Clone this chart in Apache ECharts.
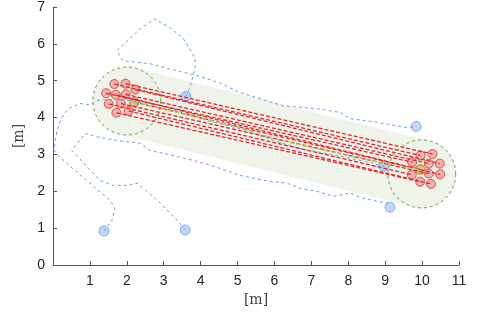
<!DOCTYPE html>
<html><head><meta charset="utf-8">
<script src="https://cdn.jsdelivr.net/npm/echarts@6/dist/echarts.min.js"></script>
<style>html,body{margin:0;padding:0;background:#fff}#c{width:479px;height:316px}</style>
</head><body><div id="c"></div>
<script>
// ---- data ----
const xTickValues = [0,1,2,3,4,5,6,7,8,9,10,11];
const yTickValues = [0,1,2,3,4,5,6,7];
const axisUnit = '[m]';

// formation region (start circle, goal circle, corridor radius)
const bandStart = [2.00, 4.45];
const bandEnd = [9.99, 2.47];
const bandRadius = 0.92;

// robots: start and end positions (paired)
const redStart = [[1.66,4.91],[1.965,4.92],[2.23,4.76],[1.44,4.66],[1.70,4.62],[1.97,4.63],[1.51,4.37],[1.84,4.38],[2.20,4.42],[1.72,4.13],[2.05,4.18]];
const redEnd   = [[9.96,2.97],[10.28,3.01],[10.48,2.75],[9.73,2.79],[9.95,2.59],[10.18,2.75],[9.72,2.45],[10.18,2.48],[10.49,2.46],[9.95,2.26],[10.24,2.20]];

// virtual leader
const leaderPath = [[2.20,4.42],[5.07,3.73],[6.15,3.38],[8.86,2.78],[9.95,2.59]];
const leaderMarks = [[2.20,4.42],[9.95,2.59]];

// obstacles (moving): final positions and paths
const blueEnd = [[1.38,0.92],[3.58,0.95],[3.60,4.57],[9.84,3.76],[8.97,2.68],[9.13,1.57]];
const bluePathA = [[3.60,4.57],[3.71,4.81],[3.85,5.35],[3.85,5.62],[3.52,6.16],[3.17,6.43],[2.76,6.68],[2.36,6.41],[1.73,5.81],[1.90,5.54],[2.63,5.46],[3.36,5.27],[3.90,5.14],[4.50,4.95],[5.07,4.68],[5.61,4.51],[6.23,4.32],[7.15,4.24],[7.78,4.14],[8.05,3.97],[8.67,3.89],[9.59,3.73],[9.84,3.76]];
const bluePathB = [[1.38,0.92],[1.60,1.22],[1.68,1.54],[1.54,1.76],[0.81,2.38],[0.19,2.92],[0.03,3.11],[0.05,3.30],[0.11,3.65],[0.24,4.00],[0.41,4.24],[0.73,4.38],[1.00,4.35],[1.19,4.46],[1.36,4.49],[2.17,4.46],[2.90,4.27],[3.63,4.11],[4.17,3.92],[5.07,3.70],[5.61,3.51],[6.15,3.32],[6.78,3.14],[7.70,2.97],[8.59,2.78],[8.97,2.68]];
const bluePathC = [[3.58,0.95],[3.36,1.22],[2.82,1.76],[2.28,2.22],[2.01,2.16],[1.63,2.16],[1.27,2.30],[0.51,3.11],[0.46,3.16],[0.87,3.57],[1.27,3.46],[1.73,3.38],[2.36,3.30],[2.63,3.11],[3.25,2.97],[3.79,2.84],[4.44,2.65],[5.07,2.43],[5.69,2.30],[6.34,2.22],[6.69,2.08],[7.15,2.00],[7.59,1.86],[8.05,1.95],[8.40,1.81],[8.78,1.73],[9.05,1.68],[9.13,1.57]];

// ---- chart ----
const chart = echarts.init(document.getElementById('c'), null, {renderer:'canvas'});
const labelFont = 'Liberation Sans, Arial, sans-serif';
const serifFont = 'DejaVu Serif, Liberation Serif, serif';

function bandRender(params, api){
  const p1 = api.coord([api.value(0), api.value(1)]);
  const p2 = api.coord([api.value(2), api.value(3)]);
  const r = api.size([api.value(4), api.value(4)])[0];
  const a = Math.atan2(p2[1]-p1[1], p2[0]-p1[0]);
  const pts = [];
  const n = 40;
  for(let i=0;i<=n;i++){ const t=a+Math.PI/2+Math.PI*i/n; pts.push([p1[0]+r*Math.cos(t), p1[1]+r*Math.sin(t)]); }
  for(let i=0;i<=n;i++){ const t=a-Math.PI/2+Math.PI*i/n; pts.push([p2[0]+r*Math.cos(t), p2[1]+r*Math.sin(t)]); }
  return {type:'group', children:[
    {type:'polygon', shape:{points:pts}, style:{fill:'#eff3ea', stroke:null}},
    {type:'circle', shape:{cx:p1[0], cy:p1[1], r:r}, style:{fill:null, stroke:'#6f9a35', lineWidth:1, lineDash:[3,3]}},
    {type:'circle', shape:{cx:p2[0], cy:p2[1], r:r}, style:{fill:null, stroke:'#6f9a35', lineWidth:1, lineDash:[3,3]}}
  ]};
}

const series = [];
series.push({type:'custom', renderItem: bandRender, silent:true,
  data:[[bandStart[0],bandStart[1],bandEnd[0],bandEnd[1],bandRadius]]});

[bluePathA, bluePathB, bluePathC].forEach(p=>{
  series.push({type:'line', data:p, symbol:'none', silent:true,
    lineStyle:{color:'#6d9eeb', width:1, type:[3,3]}});
});
redStart.forEach((s,i)=>{
  series.push({type:'line', data:[s, redEnd[i]], symbol:'none', silent:true,
    lineStyle:{color:'#e3262b', width:1.3, type:[4,2]}});
});
series.push({type:'line', data:leaderPath, symbol:'none', silent:true,
  lineStyle:{color:'#a6d34f', width:1.3, type:[4,3]}});
series.push({type:'scatter', data:redStart.concat(redEnd), symbol:'circle', symbolSize:9, silent:true,
  itemStyle:{color:'rgba(238,110,110,0.6)', borderColor:'#d82a2a', borderWidth:1}});
series.push({type:'scatter', data:leaderMarks, symbol:'circle', symbolSize:10, silent:true,
  itemStyle:{color:'rgba(0,0,0,0)', borderColor:'#9acd32', borderWidth:1.2}});
series.push({type:'scatter', data:blueEnd, symbol:'circle', symbolSize:10, silent:true,
  itemStyle:{color:'rgba(140,178,245,0.65)', borderColor:'#6d9eeb', borderWidth:1}});

chart.setOption({
  animation:false,
  backgroundColor:'#ffffff',
  grid:{left:53, right:20, top:6, bottom:51, containLabel:false},
  xAxis:{type:'value', min:xTickValues[0], max:xTickValues[xTickValues.length-1], interval:1,
    name:axisUnit, nameLocation:'middle', nameGap:25,
    nameTextStyle:{fontFamily:serifFont, fontSize:14, color:'#444'},
    axisLine:{show:true, onZero:false, lineStyle:{color:'#555', width:1}},
    axisTick:{show:true, inside:true, length:4, lineStyle:{color:'#555'}},
    axisLabel:{color:'#262626', fontSize:14, fontFamily:labelFont, margin:9,
      formatter:v=> v===0 ? '' : String(v)},
    splitLine:{show:false}},
  yAxis:{type:'value', min:yTickValues[0], max:yTickValues[yTickValues.length-1], interval:1,
    name:axisUnit, nameLocation:'middle', nameGap:25,
    nameTextStyle:{fontFamily:serifFont, fontSize:14, color:'#444'},
    axisLine:{show:true, onZero:false, lineStyle:{color:'#555', width:1}},
    axisTick:{show:true, inside:true, length:4, lineStyle:{color:'#555'}},
    axisLabel:{color:'#262626', fontSize:14, fontFamily:labelFont, margin:8},
    splitLine:{show:false}},
  series: series
});
</script>
</body></html>
